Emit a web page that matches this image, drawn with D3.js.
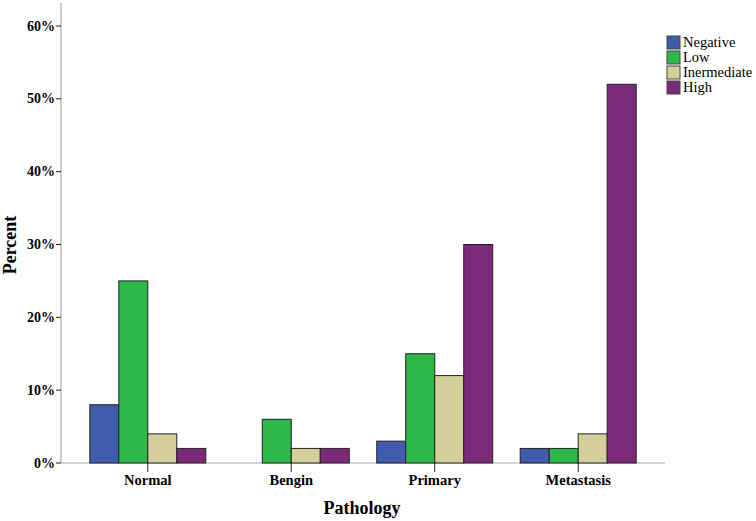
<!DOCTYPE html>
<html><head><meta charset="utf-8">
<script src="https://cdn.jsdelivr.net/npm/d3@7"></script>
<style>body{margin:0;background:#fff}svg{display:block}</style>
</head><body>
<script>
const categories = ["Normal","Bengin","Primary","Metastasis"];
const seriesNames = ["Negative","Low","Inermediate","High"];
const negative = [8,0,3,2];
const low = [25,6,15,2];
const intermediate = [4,2,12,4];
const high = [2,2,30,52];
const yTicks = [0,10,20,30,40,50,60];
const colors = ["#3f5bab","#2eb84a","#d4cf9a","#7b2a7b"];
const seriesValues = [negative, low, intermediate, high];

const W=756,H=521;
const svg=d3.select("body").append("svg").attr("width",W).attr("height",H);
const font="'Liberation Serif','DejaVu Serif',serif";

const x=d3.scalePoint().domain(categories).range([61,665]).padding(0.605);
const y=d3.scaleLinear().domain([0,60]).range([463,26]);
const barW=29;
const sub=d3.scaleBand().domain(seriesNames).range([-2*barW,2*barW]);

svg.append("line").attr("x1",61).attr("x2",61).attr("y1",3).attr("y2",463).attr("stroke","#aaa").attr("stroke-width",1.2);
svg.append("line").attr("x1",61).attr("x2",665).attr("y1",463).attr("y2",463).attr("stroke","#aaa").attr("stroke-width",1.2);

const yg=svg.append("g");
yTicks.forEach(t=>{
  yg.append("line").attr("x1",56).attr("x2",61).attr("y1",y(t)).attr("y2",y(t)).attr("stroke","#222");
  yg.append("text").attr("x",55).attr("y",y(t)+4.5).attr("text-anchor","end")
    .attr("font-family",font).attr("font-weight","bold").attr("font-size",14).text(t+"%");
});

seriesNames.forEach((s,si)=>{
  categories.forEach((c,ci)=>{
    const v=seriesValues[si][ci];
    if(v<=0) return;
    svg.append("rect").attr("x",x(c)+sub(s)).attr("y",y(v)).attr("width",sub.bandwidth())
      .attr("height",y(0)-y(v)).attr("fill",colors[si]).attr("stroke","#222").attr("stroke-width",1);
  });
});

categories.forEach(c=>{
  svg.append("line").attr("x1",x(c)).attr("x2",x(c)).attr("y1",463).attr("y2",472).attr("stroke","#222");
  svg.append("text").attr("x",x(c)).attr("y",485).attr("text-anchor","middle")
    .attr("font-family",font).attr("font-weight","bold").attr("font-size",14.5).text(c);
});

svg.append("text").attr("x",362).attr("y",514).attr("text-anchor","middle")
  .attr("font-family",font).attr("font-weight","bold").attr("font-size",18).text("Pathology");
svg.append("text").attr("transform","translate(16,245) rotate(-90)").attr("text-anchor","middle")
  .attr("font-family",font).attr("font-weight","bold").attr("font-size",18).text("Percent");

const lg=svg.append("g").attr("transform","translate(667,36)");
seriesNames.forEach((s,i)=>{
  lg.append("rect").attr("x",0).attr("y",i*15).attr("width",13).attr("height",13)
    .attr("fill",colors[i]).attr("stroke","#444").attr("stroke-width",1);
  lg.append("text").attr("x",16).attr("y",i*15+11).attr("font-family",font).attr("font-size",14.5).text(s);
});
</script>
</body></html>
